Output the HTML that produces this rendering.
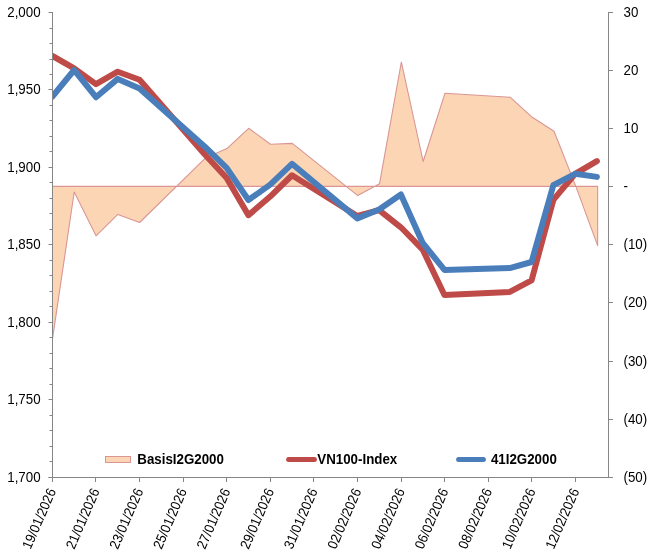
<!DOCTYPE html>
<html><head><meta charset="utf-8"><title>Chart</title>
<style>html,body{margin:0;padding:0;background:#fff}svg{display:block}</style>
</head><body>
<svg width="653" height="555" viewBox="0 0 653 555">
<rect width="653" height="555" fill="#fff"/>
<clipPath id="a"><rect x="52.5" y="0" width="556.0" height="477.5"/></clipPath>
<polygon clip-path="url(#a)" points="52.40,186.4 52.40,339.60 74.21,192.00 96.02,235.80 117.83,214.40 139.64,222.50 205.07,158.30 226.88,148.60 248.69,128.30 270.50,144.20 292.31,143.40 357.74,195.60 379.55,183.70 401.36,62.00 423.17,161.50 444.98,93.20 510.41,97.30 532.22,117.30 554.03,131.20 575.84,186.40 597.65,245.60 597.65,186.4" fill="#FCD5B5" stroke="#D99694" stroke-width="1.1" stroke-linejoin="round"/>
<clipPath id="c"><rect x="52.0" y="0" width="576.0" height="477.5"/></clipPath>
<g clip-path="url(#c)" fill="none" stroke-width="6" stroke-linejoin="round" stroke-linecap="round">
<polyline points="52.40,55.91 74.18,68.31 95.96,84.13 117.74,71.73 139.52,79.77 204.86,154.54 226.64,177.98 248.42,215.19 270.20,196.55 291.98,175.27 357.32,215.95 379.10,210.22 400.88,227.27 422.66,249.54 444.44,294.95 509.78,291.96 531.56,280.43 553.34,199.92 575.12,173.80 596.90,161.11" stroke="#BE4B48"/>
<polyline points="52.40,96.60 74.18,70.00 95.96,97.20 117.74,78.90 139.52,88.60 204.86,146.70 226.64,167.90 248.42,200.00 270.20,184.60 291.98,163.80 357.32,218.40 379.10,209.50 400.88,194.50 422.66,242.90 444.44,269.90 509.78,268.10 531.56,262.00 553.34,185.20 575.12,173.80 596.90,176.90" stroke="#4A7EBB"/>
</g>
<g stroke="#868686" stroke-width="1" fill="none">
<path d="M52.5 12.0V482.0"/>
<path d="M608.5 12.0V478.0"/>
<path d="M48.5 477.5H613.0"/>
<path d="M48.5 12.5H52.5"/>
<path d="M49.5 28.5H52.5"/>
<path d="M49.5 43.5H52.5"/>
<path d="M49.5 59.5H52.5"/>
<path d="M49.5 74.5H52.5"/>
<path d="M48.5 89.5H52.5"/>
<path d="M49.5 105.5H52.5"/>
<path d="M49.5 120.5H52.5"/>
<path d="M49.5 136.5H52.5"/>
<path d="M49.5 151.5H52.5"/>
<path d="M48.5 167.5H52.5"/>
<path d="M49.5 182.5H52.5"/>
<path d="M49.5 198.5H52.5"/>
<path d="M49.5 213.5H52.5"/>
<path d="M49.5 229.5H52.5"/>
<path d="M48.5 244.5H52.5"/>
<path d="M49.5 260.5H52.5"/>
<path d="M49.5 275.5H52.5"/>
<path d="M49.5 291.5H52.5"/>
<path d="M49.5 306.5H52.5"/>
<path d="M48.5 322.5H52.5"/>
<path d="M49.5 337.5H52.5"/>
<path d="M49.5 353.5H52.5"/>
<path d="M49.5 368.5H52.5"/>
<path d="M49.5 384.5H52.5"/>
<path d="M48.5 399.5H52.5"/>
<path d="M49.5 415.5H52.5"/>
<path d="M49.5 430.5H52.5"/>
<path d="M49.5 446.5H52.5"/>
<path d="M49.5 461.5H52.5"/>
<path d="M48.5 477.5H52.5"/>
<path d="M608.5 12.5H613.0"/>
<path d="M608.5 70.5H613.0"/>
<path d="M608.5 128.5H613.0"/>
<path d="M608.5 186.5H613.0"/>
<path d="M608.5 244.5H613.0"/>
<path d="M608.5 302.5H613.0"/>
<path d="M608.5 361.5H613.0"/>
<path d="M608.5 419.5H613.0"/>
<path d="M608.5 477.5H613.0"/>
<path d="M52.5 477.5V482.0"/>
<path d="M95.5 477.5V482.0"/>
<path d="M139.5 477.5V482.0"/>
<path d="M183.5 477.5V482.0"/>
<path d="M226.5 477.5V482.0"/>
<path d="M270.5 477.5V482.0"/>
<path d="M313.5 477.5V482.0"/>
<path d="M357.5 477.5V482.0"/>
<path d="M401.5 477.5V482.0"/>
<path d="M444.5 477.5V482.0"/>
<path d="M488.5 477.5V482.0"/>
<path d="M531.5 477.5V482.0"/>
<path d="M575.5 477.5V482.0"/>
</g>
<g font-family="'Liberation Sans', Arial, sans-serif" font-size="14px" fill="#000">
<text transform="translate(40.60,17.00) scale(0.952,1)" text-anchor="end">2,000</text>
<text transform="translate(40.60,94.00) scale(0.952,1)" text-anchor="end">1,950</text>
<text transform="translate(40.60,172.00) scale(0.952,1)" text-anchor="end">1,900</text>
<text transform="translate(40.60,249.00) scale(0.952,1)" text-anchor="end">1,850</text>
<text transform="translate(40.60,327.00) scale(0.952,1)" text-anchor="end">1,800</text>
<text transform="translate(40.60,404.00) scale(0.952,1)" text-anchor="end">1,750</text>
<text transform="translate(40.60,482.00) scale(0.952,1)" text-anchor="end">1,700</text>
<text transform="translate(623.50,17.00) scale(0.952,1)" text-anchor="start">30</text>
<text transform="translate(623.50,75.00) scale(0.952,1)" text-anchor="start">20</text>
<text transform="translate(623.50,133.00) scale(0.952,1)" text-anchor="start">10</text>
<text transform="translate(623.50,191.00) scale(0.952,1)" text-anchor="start">-</text>
<text transform="translate(623.50,249.00) scale(0.952,1)" text-anchor="start">(10)</text>
<text transform="translate(623.50,307.00) scale(0.952,1)" text-anchor="start">(20)</text>
<text transform="translate(623.50,366.00) scale(0.952,1)" text-anchor="start">(30)</text>
<text transform="translate(623.50,424.00) scale(0.952,1)" text-anchor="start">(40)</text>
<text transform="translate(623.50,482.00) scale(0.952,1)" text-anchor="start">(50)</text>
<text transform="translate(56.30,491.00) rotate(-66.5) scale(0.92,1)" text-anchor="end">19/01/2026</text>
<text transform="translate(99.90,491.00) rotate(-66.5) scale(0.92,1)" text-anchor="end">21/01/2026</text>
<text transform="translate(143.50,491.00) rotate(-66.5) scale(0.92,1)" text-anchor="end">23/01/2026</text>
<text transform="translate(187.10,491.00) rotate(-66.5) scale(0.92,1)" text-anchor="end">25/01/2026</text>
<text transform="translate(230.70,491.00) rotate(-66.5) scale(0.92,1)" text-anchor="end">27/01/2026</text>
<text transform="translate(274.30,491.00) rotate(-66.5) scale(0.92,1)" text-anchor="end">29/01/2026</text>
<text transform="translate(317.90,491.00) rotate(-66.5) scale(0.92,1)" text-anchor="end">31/01/2026</text>
<text transform="translate(361.50,491.00) rotate(-66.5) scale(0.92,1)" text-anchor="end">02/02/2026</text>
<text transform="translate(405.10,491.00) rotate(-66.5) scale(0.92,1)" text-anchor="end">04/02/2026</text>
<text transform="translate(448.70,491.00) rotate(-66.5) scale(0.92,1)" text-anchor="end">06/02/2026</text>
<text transform="translate(492.30,491.00) rotate(-66.5) scale(0.92,1)" text-anchor="end">08/02/2026</text>
<text transform="translate(535.90,491.00) rotate(-66.5) scale(0.92,1)" text-anchor="end">10/02/2026</text>
<text transform="translate(579.50,491.00) rotate(-66.5) scale(0.92,1)" text-anchor="end">12/02/2026</text>
</g>
<g font-family="'Liberation Sans', Arial, sans-serif" font-size="14px" font-weight="bold" fill="#000">
<rect x="105.5" y="456.5" width="25" height="6" fill="#FCD5B5" stroke="#D99694"/>
<text transform="translate(137.3,464) scale(0.952,1)">BasisI2G2000</text>
<path d="M288.6 459.5H314.4" stroke="#BE4B48" stroke-width="5" stroke-linecap="round"/>
<text transform="translate(317.3,464) scale(0.952,1)">VN100-Index</text>
<path d="M458.6 459.5H483.4" stroke="#4A7EBB" stroke-width="5" stroke-linecap="round"/>
<text transform="translate(490.9,464) scale(0.952,1)">41I2G2000</text>
</g>
</svg>
</body></html>
